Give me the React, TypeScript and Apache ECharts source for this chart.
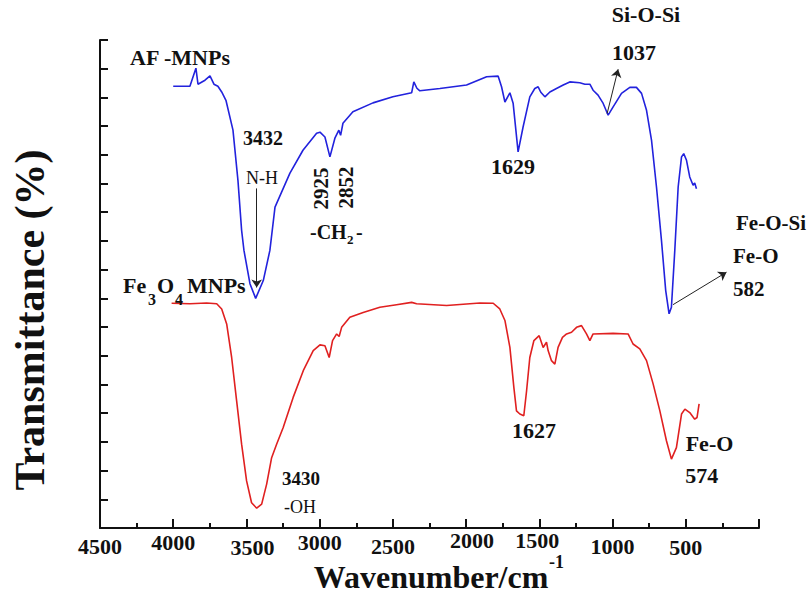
import React, { useEffect, useRef } from "react";
import * as echarts from "echarts";

// Wavenumber axis ticks
const X_MIN = 0;
const X_MAX = 4500;
const X_INTERVAL = 500;

// AF-MNPs spectrum (blue)
const afWavenumber = [4000, 3886, 3845, 3831, 3783, 3749, 3722, 3695, 3669, 3640, 3592, 3558, 3533, 3517, 3476, 3437, 3385, 3340, 3305, 3203, 3114, 3021, 2998, 2964, 2930, 2896, 2869, 2857, 2841, 2773, 2636, 2500, 2372, 2357, 2336, 2316, 2179, 1997, 1860, 1781, 1758, 1735, 1701, 1679, 1645, 1611, 1565, 1531, 1508, 1490, 1462, 1428, 1383, 1337, 1292, 1224, 1189, 1155, 1133, 1099, 1064, 1030, 996, 939, 882, 837, 802, 768, 734, 700, 666, 637, 614, 598, 575, 552, 529, 514, 495, 473, 450, 439, 427];
const afTransmittance = [15.39, 15.39, 16.02, 15.46, 15.6, 15.75, 15.46, 15.39, 15.19, 14.9, 13.86, 12.11, 10.37, 9.67, 8.51, 8.0, 8.62, 9.67, 11.18, 12.36, 13.16, 13.75, 13.79, 13.62, 12.93, 13.58, 13.86, 13.68, 14.1, 14.5, 14.81, 15.02, 15.16, 15.54, 15.32, 15.23, 15.31, 15.43, 15.72, 15.74, 15.37, 14.84, 15.16, 14.8, 13.1, 13.97, 15.02, 15.31, 15.37, 15.18, 15.02, 15.19, 15.31, 15.43, 15.54, 15.51, 15.46, 15.46, 15.25, 15.08, 14.79, 14.38, 14.67, 15.14, 15.35, 15.35, 15.14, 14.55, 13.51, 11.88, 10.02, 8.27, 7.46, 7.69, 9.67, 11.88, 12.93, 13.04, 12.81, 12.23, 11.94, 12.02, 11.82];

// Fe3O4 MNPs spectrum (red)
const feWavenumber = [4011, 3886, 3772, 3703, 3669, 3635, 3601, 3567, 3533, 3499, 3465, 3430, 3396, 3362, 3328, 3294, 3249, 3181, 3112, 3044, 2998, 2964, 2935, 2912, 2884, 2867, 2850, 2794, 2703, 2589, 2475, 2372, 2338, 2133, 1906, 1815, 1770, 1735, 1701, 1674, 1656, 1633, 1606, 1587, 1565, 1537, 1501, 1474, 1451, 1440, 1417, 1394, 1372, 1342, 1314, 1280, 1246, 1212, 1178, 1155, 1133, 996, 894, 860, 814, 768, 723, 677, 632, 598, 564, 529, 506, 473, 439, 423, 409];
const feTransmittance = [7.83, 7.81, 7.84, 7.81, 7.63, 7.11, 5.94, 4.43, 2.92, 1.64, 0.88, 0.69, 0.83, 1.53, 2.45, 2.92, 3.5, 4.55, 5.48, 6.18, 6.38, 6.35, 5.94, 6.53, 6.76, 6.67, 6.99, 7.34, 7.51, 7.69, 7.78, 7.86, 7.81, 7.75, 7.84, 7.83, 7.63, 7.23, 6.29, 4.9, 4.08, 3.97, 3.91, 4.78, 5.94, 6.53, 6.7, 6.29, 6.47, 6.18, 5.83, 5.71, 6.29, 6.64, 6.76, 6.82, 6.99, 7.05, 6.76, 6.53, 6.76, 6.78, 6.76, 6.41, 6.24, 5.83, 5.02, 4.08, 3.04, 2.4, 2.8, 3.97, 4.14, 4.02, 3.79, 3.85, 4.32];

// Annotation arrows: [fromWavenumber, fromT, toWavenumber, toT]
const arrowNH = [3430, 11.83, 3430, 8.38];
const arrowSi = [1037, 14.44, 962, 15.98];
const arrowFe = [587, 7.78, 222, 8.91];

const FONT = "Liberation Serif, Times New Roman, serif";

// small per-label nudges of the wavenumber tick labels, as in the original figure
const labelNudge: Record<number, string> = {
  4500: "d6", 4000: "d2", 3500: "r6", 3000: "d2", 2500: "d6",
  2000: "r0", 1500: "l0", 1000: "d6", 500: "d7",
};

function txt(text: string, x: number, y: number, size: number, bold = true, extra: any = {}) {
  return {
    type: "text",
    x,
    y,
    rotation: extra.rotation || 0,
    z: 100,
    style: {
      text,
      font: `${bold ? "bold " : ""}${size}px ${FONT}`,
      fill: "#111",
      align: extra.align || "center",
      verticalAlign: "middle",
      textAlign: extra.align || "center",
      textVerticalAlign: "middle",
    },
  };
}

export default function App() {
  const ref = useRef<HTMLDivElement>(null);
  useEffect(() => {
    if (!ref.current) return;
    const chart = echarts.init(ref.current, null, { renderer: "svg" });
    const zip = (a: number[], b: number[]) => a.map((v, i) => [v, b[i]]);
    const arrow = (a: number[]) => [
      { coord: [a[0], a[1]], symbol: "none" },
      { coord: [a[2], a[3]], symbol: "arrow" },
    ];
    const lab = { fontFamily: FONT, fontWeight: "bold", fontSize: 22, color: "#111" };
    chart.setOption({
      animation: false,
      backgroundColor: "#fff",
      grid: { left: 100, right: 52, top: 40, bottom: 68, containLabel: false },
      xAxis: {
        type: "value",
        min: X_MIN,
        max: X_MAX,
        interval: X_INTERVAL,
        inverse: true,
        axisLine: { show: true, lineStyle: { color: "#111", width: 2 } },
        axisTick: { show: true, inside: true, length: 9, lineStyle: { color: "#111", width: 2 } },
        minorTick: { show: true, splitNumber: 2, length: 5, lineStyle: { color: "#111", width: 2 } },
        splitLine: { show: false },
        axisLabel: {
          margin: 1,
          ...lab,
          formatter: (v: number) => (v === 0 ? "" : `{${labelNudge[v] || "d0"}|${v}}`),
          rich: {
            d0: { ...lab, padding: [0, 0, 0, 0] },
            d2: { ...lab, padding: [2, 0, 0, 0] },
            d6: { ...lab, padding: [6, 0, 0, 0] },
            d7: { ...lab, padding: [7, 0, 0, 0] },
            r6: { ...lab, padding: [7, 0, 0, 12] },
            r0: { ...lab, padding: [0, 0, 0, 12] },
            l0: { ...lab, padding: [0, 4, 0, 0] },
          },
        },
      },
      yAxis: {
        type: "value",
        position: "left",
        min: 0,
        max: 17,
        interval: 1,
        axisLine: { show: true, onZero: false, lineStyle: { color: "#111", width: 2 } },
        axisTick: { show: true, inside: true, length: 8, lineStyle: { color: "#111", width: 2 } },
        splitLine: { show: false },
        axisLabel: { show: false },
      },
      series: [
        {
          type: "line",
          name: "AF-MNPs",
          data: zip(afWavenumber, afTransmittance),
          showSymbol: false,
          lineStyle: { color: "#2222dd", width: 1.6 },
          markLine: {
            silent: true,
            symbol: ["none", "arrow"],
            symbolSize: 8,
            label: { show: false },
            lineStyle: { color: "#222", width: 1, type: "solid" },
            data: [arrow(arrowNH), arrow(arrowSi), arrow(arrowFe)],
          },
        },
        {
          type: "line",
          name: "Fe3O4 MNPs",
          data: zip(feWavenumber, feTransmittance),
          showSymbol: false,
          lineStyle: { color: "#e02020", width: 1.6 },
        },
      ],
      graphic: [
        txt("Transmittance (%)", 30, 320, 42, true, { rotation: Math.PI / 2 }),
        txt("Wavenumber/cm", 431, 577, 32, true),
        txt("-1", 549, 562, 18, true, { align: "left" }),
        txt("AF -MNPs", 180, 57, 22, true),
        txt("3432", 263, 138, 20, true),
        txt("N-H", 262, 178, 18, false),
        txt("2925", 320.5, 188.5, 21, true, { rotation: Math.PI / 2 }),
        txt("2852", 345.7, 187.5, 21, true, { rotation: Math.PI / 2 }),
        txt("-CH", 310, 231.5, 20, true, { align: "left" }),
        txt("2", 347, 239, 13, true, { align: "left" }),
        txt("-", 356, 231.5, 20, true, { align: "left" }),
        txt("1629", 513, 166, 22, true),
        txt("Si-O-Si", 646, 14, 22, true),
        txt("1037", 634, 52, 22, true),
        txt("Fe-O-Si", 771, 223, 21, true),
        txt("Fe-O", 733, 256, 21, true, { align: "left" }),
        txt("582", 733, 289, 21, true, { align: "left" }),
        txt("Fe", 123, 285, 22, true, { align: "left" }),
        txt("3", 148, 299, 16, true, { align: "left" }),
        txt("O", 157, 285, 22, true, { align: "left" }),
        txt("4", 175, 299, 16, true, { align: "left" }),
        txt("MNPs", 187, 285, 22, true, { align: "left" }),
        txt("3430", 301, 478, 19, true),
        txt("-OH", 300, 507, 18, false),
        txt("1627", 534, 430, 22, true),
        txt("Fe-O", 709.5, 443.5, 22, true),
        txt("574", 701.7, 475, 22, true),
      ],
    });
    return () => chart.dispose();
  }, []);
  return (
    <div
      ref={ref}
      style={{ position: "fixed", left: 0, top: 0, width: 811, height: 596, background: "#fff" }}
    />
  );
}
